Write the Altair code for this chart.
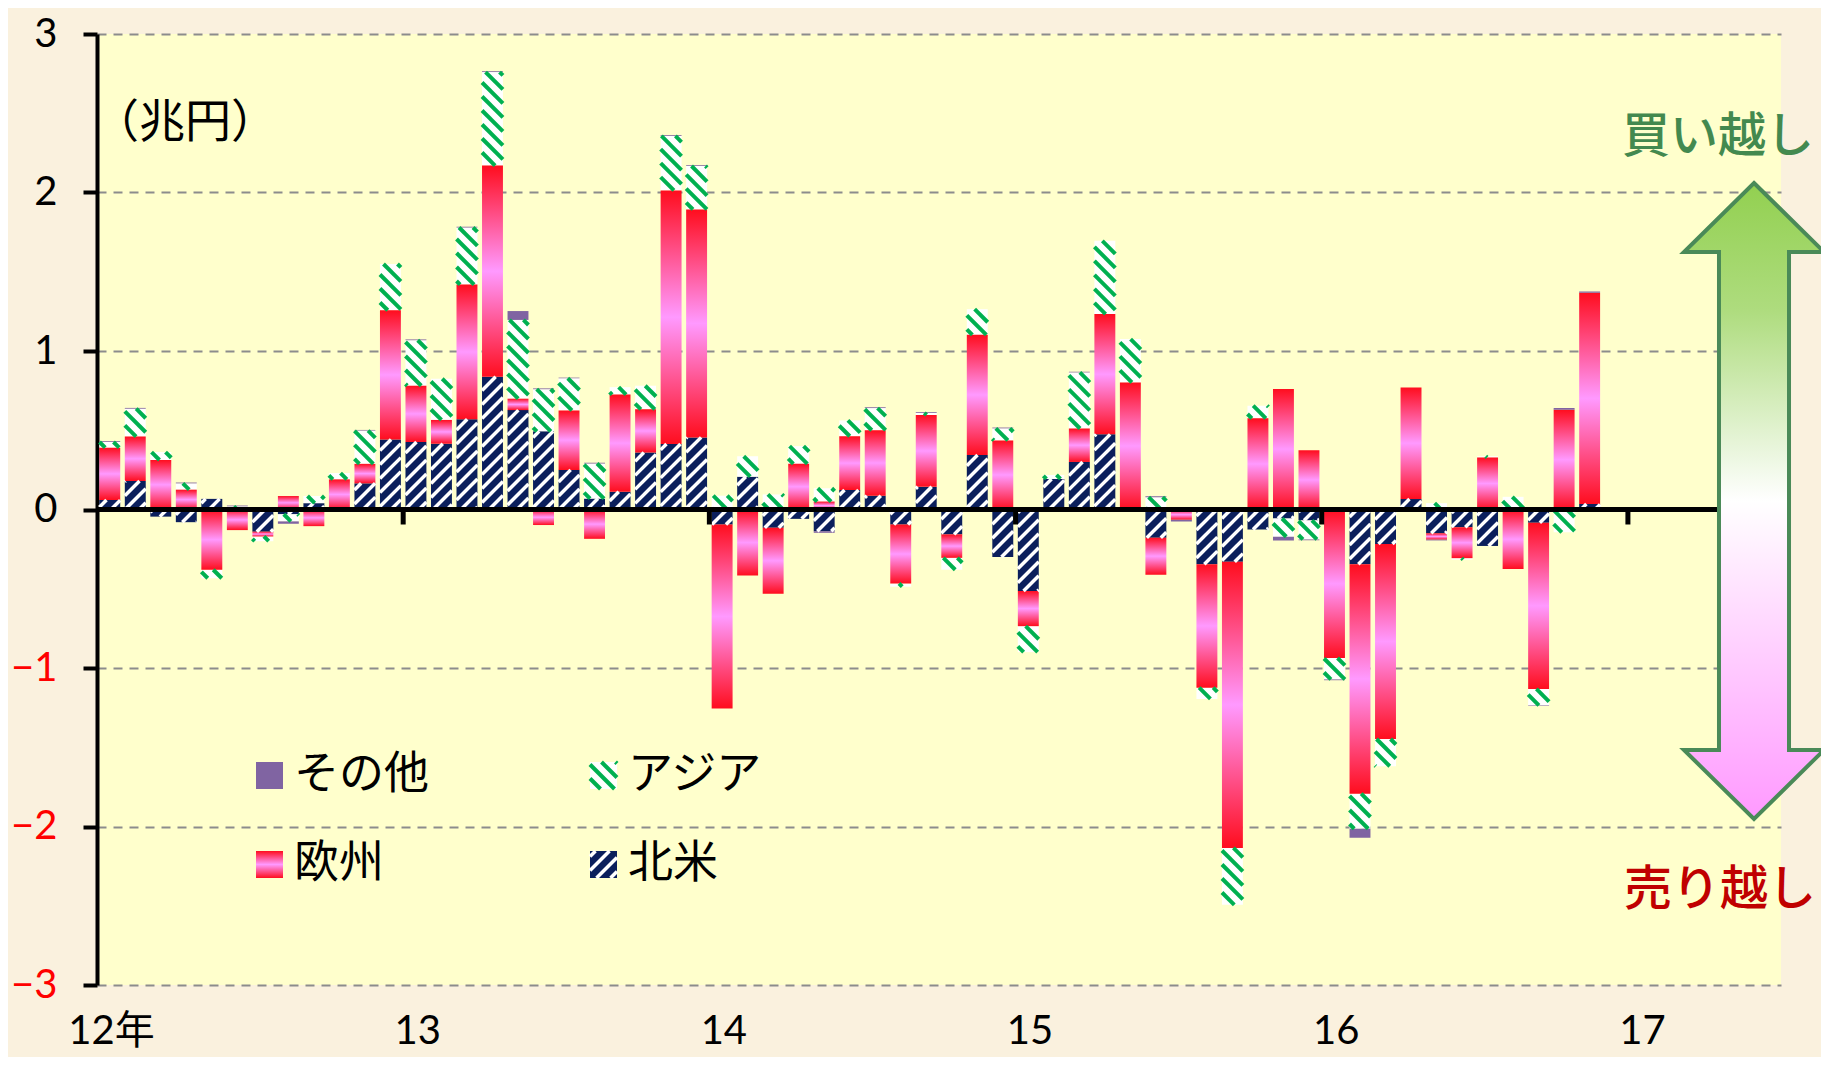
import json
import math
import altair as alt
import pandas as pd

# ---------------- data (trillion yen), Jan 2012 .. Nov 2016 ----------------
months = [f"{2012 + i // 12}-{i % 12 + 1:02d}" for i in range(59)]

north_america = [
    0.06, 0.18, -0.045, -0.08, 0.067, 0.0, -0.14, -0.03, 0.04, -0.005, 0.165, 0.442,
    0.426, 0.415, 0.569, 0.837, 0.627, 0.493, 0.25, 0.069, 0.112, 0.359, 0.413, 0.455,
    -0.095, 0.207, -0.115, -0.059, -0.137, 0.123, 0.087, -0.095, 0.143, -0.157, 0.344, -0.3,
    -0.514, 0.193, 0.3, 0.474, 0.0, -0.178, 0.0, -0.345, -0.33, -0.126, -0.057, -0.069,
    0.0, -0.345, -0.218, 0.066, -0.15, -0.112, -0.23, 0.0, -0.083, 0.0, 0.034,
]
europe = [
    0.33, 0.28, 0.3125, 0.125, -0.38, -0.13, -0.03, 0.085, -0.105, 0.19, 0.123, 0.815,
    0.355, 0.15, 0.85, 1.333, 0.072, -0.098, 0.375, -0.185, 0.613, 0.273, 1.6, 1.438,
    -1.16, -0.417, -0.416, 0.288, 0.05, 0.339, 0.413, -0.372, 0.453, -0.148, 0.758, 0.436,
    -0.222, 0.0, 0.211, 0.759, 0.802, -0.233, -0.065, -0.779, -1.805, 0.575, 0.761, 0.374,
    -0.937, -1.448, -1.23, 0.704, -0.04, -0.195, 0.328, -0.376, -1.049, 0.629, 1.334,
]
asia = [
    0.036, 0.176, 0.05, 0.04, -0.054, 0.02, -0.03, -0.045, 0.045, 0.04, 0.21, 0.292,
    0.287, 0.26, 0.36, 0.59, 0.497, 0.266, 0.203, 0.221, 0.047, 0.149, 0.344, 0.274,
    0.087, 0.129, 0.095, 0.112, 0.084, 0.1, 0.14, -0.02, 0.014, -0.075, 0.162, 0.076,
    -0.164, 0.025, 0.354, 0.462, 0.273, 0.078, 0.0, -0.071, -0.359, 0.08, -0.115, -0.12,
    -0.135, -0.221, -0.172, 0.0, 0.04, -0.009, 0.008, 0.08, -0.104, -0.144, 0.0,
]
other = [
    0.005, 0.005, 0.0, 0.005, 0.0, 0.005, 0.0, -0.015, 0.0, -0.01, 0.004, 0.0,
    0.005, 0.0, 0.005, 0.005, 0.056, 0.005, 0.004, 0.005, 0.0, 0.0, 0.005, 0.005,
    0.0, 0.0, 0.0, 0.0, -0.01, 0.0, 0.005, 0.0, 0.005, 0.0, 0.0, 0.005,
    0.0, -0.01, 0.004, 0.0, 0.0, 0.005, -0.01, 0.0, 0.0, 0.0, -0.023, -0.005,
    -0.005, -0.057, 0.0, 0.0, -0.005, 0.0, 0.0, 0.0, -0.003, 0.011, 0.008,
]

series_names = ["北米", "欧州", "アジア", "その他"]          # stacking order
legend_labels = [["その他", "アジア"], ["欧州", "北米"]]     # legend grid
year_ticks = [0, 12, 24, 36, 48, 60]
year_labels = ["12年", "13", "14", "15", "16", "17"]
y_ticks = [-3, -2, -1, 0, 1, 2, 3]
unit_label = "（兆円）"
buy_label = "買い越し"
sell_label = "売り越し"

# ---------------- layout / style ----------------
W, H = 1684, 951
XMAX = 66
YMIN, YMAX = -3, 3
PX_M = W / XMAX
PX_U = H / (YMAX - YMIN)
BAR_GAP = 0.09
PERIOD = 14.0

NAVY = "#0B1F5C"
GREEN = "#00B050"
PURPLE = "#8064A2"
FONT_NUM = "Lato, 'Noto Sans CJK JP', sans-serif"
FONT_JP = "'Noto Sans CJK JP', sans-serif"

series_values = dict(zip(series_names, [north_america, europe, asia, other]))

# stacked segments (positive and negative stacked separately)
segs = []
for i in range(len(months)):
    pos = neg = 0.0
    for name in series_names:
        v = series_values[name][i]
        if v == 0:
            continue
        if v > 0:
            y0, y1 = pos, pos + v
            pos += v
        else:
            y0, y1 = neg, neg + v
            neg += v
        segs.append(dict(series=name, x=i + BAR_GAP, x2=i + 1 - BAR_GAP, y=y0, y2=y1))

# legend swatches, laid out in pixels inside the plot and converted to data units
SW = 27
leg_cols = [159, 493]
leg_rows = [728, 817]
legend_items = []
for r, row in enumerate(legend_labels):
    for c, lab in enumerate(row):
        px, py = leg_cols[c], leg_rows[r]
        legend_items.append((lab, px, py))
        segs.append(dict(series=lab, x=px / PX_M, x2=(px + SW) / PX_M,
                         y=YMAX - py / PX_U, y2=YMAX - (py + SW) / PX_U))

seg_df = pd.DataFrame(segs)


def hatch(df, s):
    """diagonal stripe segments (s=+1 '/', s=-1 '\\' on screen) clipped to rects"""
    rows = []
    for r in df.itertuples():
        X0, X1 = r.x * PX_M, r.x2 * PX_M
        Y0, Y1 = sorted((r.y * PX_U, r.y2 * PX_U))
        if s > 0:
            kmin, kmax = Y0 - X1, Y1 - X0
        else:
            kmin, kmax = X0 + Y0, X1 + Y1
        k = math.ceil(kmin / PERIOD) * PERIOD
        while k <= kmax:
            if s > 0:
                xa, xb = max(X0, Y0 - k), min(X1, Y1 - k)
            else:
                xa, xb = max(X0, k - Y1), min(X1, k - Y0)
            if xb - xa > 0.4:
                rows.append(dict(x=xa / PX_M, x2=xb / PX_M,
                                 y=(s * xa + k) / PX_U, y2=(s * xb + k) / PX_U))
            k += PERIOD
    return pd.DataFrame(rows)


xs = alt.Scale(domain=[0, XMAX], nice=False, zero=False)
ys = alt.Scale(domain=[YMIN, YMAX], nice=False, zero=False)

label_expr = "%s[indexof(%s, datum.value)]" % (json.dumps(year_labels, ensure_ascii=False),
                                              json.dumps(year_ticks))
xaxis = alt.Axis(values=year_ticks, labelExpr=label_expr, title=None, grid=False,
                 domain=False, ticks=False, tickSize=0, labelFontSize=40, labelFont=FONT_NUM,
                 labelColor="#000000", labelOffset=14, labelPadding=46,
                 labelBaseline="middle", labelFlush=False, labelOverlap=False)
yaxis = alt.Axis(values=y_ticks, title=None, grid=True, gridDash=[9, 7], gridColor="#8C8C8C",
                 gridWidth=2, domain=True, domainColor="#000000", domainWidth=4,
                 ticks=True, tickColor="#000000", tickWidth=4, tickSize=14,
                 labelFontSize=40, labelFont=FONT_NUM, labelPadding=26, labelFlush=False,
                 labelColor={"condition": {"test": "datum.value < 0", "value": "#FF0000"},
                             "value": "#000000"})


def enc(ch):
    return ch.encode(
        x=alt.X("x:Q", scale=xs, axis=xaxis),
        x2="x2:Q",
        y=alt.Y("y:Q", scale=ys, axis=yaxis),
        y2="y2:Q",
    )


def part(name):
    return seg_df[seg_df["series"] == name]


eu_grad = {
    "gradient": "linear", "x1": 0, "y1": 0, "x2": 0, "y2": 1,
    "stops": [
        {"offset": 0, "color": "#FF0D1E"},
        {"offset": 0.5, "color": "#FF99FF"},
        {"offset": 1, "color": "#FF0D1E"},
    ],
}

na_base = enc(alt.Chart(part("北米")).mark_bar(color=NAVY, opacity=1))
as_base = enc(alt.Chart(part("アジア")).mark_bar(color="#FFFFFF", opacity=1))
eu_bars = enc(alt.Chart(part("欧州")).mark_bar(color=eu_grad, opacity=1))
ot_bars = enc(alt.Chart(part("その他")).mark_bar(color=PURPLE, opacity=1))
na_stripes = enc(alt.Chart(hatch(part("北米"), +1)).mark_rule(color="#FFFFFF", strokeWidth=3.5))
as_stripes = enc(alt.Chart(hatch(part("アジア"), -1)).mark_rule(color=GREEN, strokeWidth=4))

zero_line = alt.Chart(pd.DataFrame({"y": [0]})).mark_rule(color="#000000", strokeWidth=5).encode(
    y=alt.Y("y:Q", scale=ys, axis=yaxis))
zero_px = H * YMAX / (YMAX - YMIN)
year_marks = alt.Chart(pd.DataFrame({"x": year_ticks[1:], "y": [0] * (len(year_ticks) - 1)})).mark_rule(
    color="#000000", strokeWidth=5).encode(
    x=alt.X("x:Q", scale=xs, axis=xaxis),
    y=alt.Y("y:Q", scale=ys, axis=yaxis),
    y2=alt.value(zero_px + 15))

texts = []
for lab, px, py in legend_items:
    texts.append(alt.Chart(pd.DataFrame({"t": [lab]})).mark_text(
        font=FONT_JP, fontSize=45, align="left", baseline="middle", color="#000000").encode(
        text="t:N", x=alt.value(px + 38), y=alt.value(py + SW / 2 - 1)))

texts.append(alt.Chart(pd.DataFrame({"t": [unit_label]})).mark_text(
    font=FONT_JP, fontSize=46, align="center", baseline="middle", color="#000000").encode(
    text="t:N", x=alt.value(88), y=alt.value(89)))
texts.append(alt.Chart(pd.DataFrame({"t": [buy_label]})).mark_text(
    font=FONT_JP, fontSize=48, fontWeight=500, align="center", baseline="middle",
    color="#43894F").encode(text="t:N", x=alt.value(1621), y=alt.value(104)))
texts.append(alt.Chart(pd.DataFrame({"t": [sell_label]})).mark_text(
    font=FONT_JP, fontSize=48, fontWeight=500, align="center", baseline="middle",
    color="#C00000").encode(text="t:N", x=alt.value(1623), y=alt.value(857)))

# double-headed arrow (decoration)
HALF = 318.0
hw, sw_, hb = 70 / HALF, 35 / HALF, 0.783
arrow_path = (f"M0,-1 L{hw:.4f},{-hb} L{sw_:.4f},{-hb} L{sw_:.4f},{hb} L{hw:.4f},{hb} "
              f"L0,1 L{-hw:.4f},{hb} L{-sw_:.4f},{hb} L{-sw_:.4f},{-hb} L{-hw:.4f},{-hb} Z")
arrow_grad = {
    "gradient": "linear", "x1": 0, "y1": 0, "x2": 0, "y2": 1,
    "stops": [
        {"offset": 0, "color": "#92D050"},
        {"offset": 0.2, "color": "#AEDC7E"},
        {"offset": 0.5, "color": "#FFFFFF"},
        {"offset": 0.75, "color": "#FFCCFF"},
        {"offset": 1, "color": "#FF99FF"},
    ],
}
arrow = alt.Chart(pd.DataFrame({"a": [0]})).mark_point(
    shape=arrow_path, filled=True, fill=arrow_grad, opacity=1, fillOpacity=1,
    stroke="#4A8A58", strokeWidth=4, strokeOpacity=1, strokeJoin="miter",
    size=(2 * HALF) ** 2).encode(x=alt.value(1657), y=alt.value(467))

chart = alt.layer(
    na_base, as_base, eu_bars, ot_bars, na_stripes, as_stripes,
    zero_line, year_marks, *texts, arrow,
).properties(
    width=W, height=H,
    autosize=alt.AutoSizeParams(type="none"),
    padding={"left": 89, "top": 26, "right": 40, "bottom": 72},
    background="#FAF1DE",
).configure_view(fill="#FFFFCC", stroke=None)

chart.save("out.html", embed_options={"renderer": "svg", "actions": False})
